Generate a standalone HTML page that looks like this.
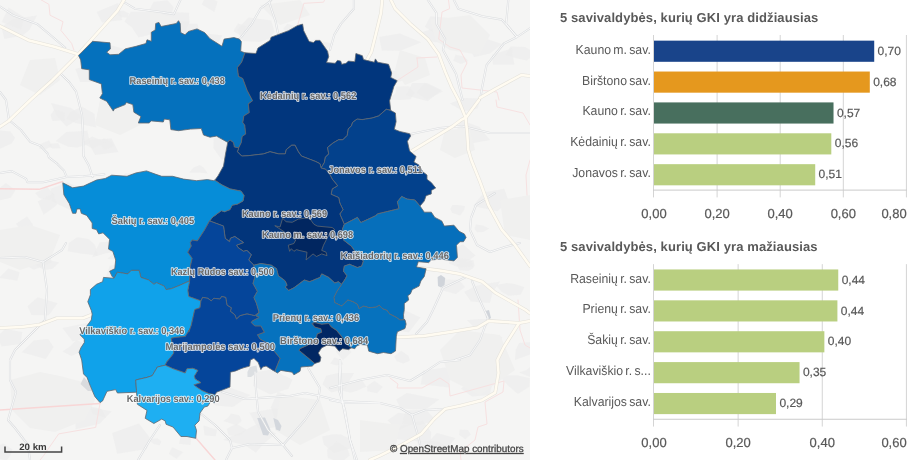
<!DOCTYPE html>
<html lang="lt">
<head>
<meta charset="utf-8">
<title>GKI savivaldybės</title>
<style>
*{box-sizing:border-box}
html,body{margin:0;padding:0;background:#fff}
body{width:920px;height:460px;overflow:hidden;position:relative;font-family:"Liberation Sans",sans-serif}
#map{position:absolute;left:0;top:0;width:530px;height:460px;background:#f5f5f4;overflow:hidden}
#map svg{position:absolute;left:0;top:0;display:block}
text{text-rendering:geometricPrecision}
.lbl{font:bold 10px "Liberation Sans",sans-serif;fill:#686868;stroke:#fff;stroke-width:1.7px;stroke-opacity:.82;stroke-linejoin:round;paint-order:stroke fill;text-anchor:middle;text-rendering:geometricPrecision}
.reg{stroke:#5f6770;stroke-width:0.8;stroke-linejoin:round}
#panel{position:absolute;left:0;top:0;width:920px;height:460px}
.ttl{font:bold 13px "Liberation Sans",sans-serif;fill:#595959;letter-spacing:0.1px}
.grid{stroke:#d4d4d4;stroke-width:1;fill:none}
.axis{stroke:#cacaca;stroke-width:1;fill:none}
.cat{font:13px "Liberation Sans",sans-serif;fill:#595959;text-anchor:end;word-spacing:-1.2px}
.val{font:12px "Liberation Sans",sans-serif;fill:#595959;stroke:#595959;stroke-width:.2px}
.tick{font:13px "Liberation Sans",sans-serif;fill:#595959;stroke:#595959;stroke-width:.2px}
.att{font:10px "Liberation Sans",sans-serif;fill:#444;stroke:#444;stroke-width:.3px;stroke-linejoin:round}
.sc{font:bold 9.4px "Liberation Sans",sans-serif;fill:#3a3a3a;text-anchor:middle}
</style>
</head>
<body>
<div id="map">
<svg width="530" height="460" viewBox="0 0 530 460">
<g fill="#ededec" fill-opacity=".7">
<path d="M175.8,64L187.1,73.9L162.1,81.7L161.3,66.3Z"/>
<path d="M55.2,194.7L49.7,200.5L39.4,197.9L35.1,192.9L41.7,189.8L47.1,185.9L50.3,190.7Z"/>
<path d="M120.3,258.6L115.6,260L107.6,258.8L112.1,254.5L115.3,250.8L123,251.7L124.3,256.1Z"/>
<path d="M283.1,29L287.3,23.7L295.7,26.3L298.5,32.3L288.6,32.5Z"/>
<path d="M115.4,77.7L142.5,69.4L151.1,88.7L125.3,90.5Z"/>
<path d="M526.6,60.5L516.6,58.2L505.2,55.1L510.5,46.5L525,46.9L536.3,53.3Z"/>
<path d="M174.6,322.2L169.1,326.8L155.4,328.5L157.6,319.9L154.6,311.1L168.8,312.5L180.7,315.4Z"/>
<path d="M377.1,206.4L365.3,211.5L354.5,210.1L351.5,204.2L353.2,192.9L367.7,199.8Z"/>
<path d="M139.9,189.1L118.2,184.5L125,173.2L146.7,174.3Z"/>
<path d="M305,322.7L303.2,330.1L292.3,334.5L279.9,331.2L271.4,322.7L280.9,312.7L298,315.8Z"/>
<path d="M15.4,190.2L10.8,197.7L-0.7,200.5L-10.9,195.2L-2.7,189.9L5.8,183Z"/>
<path d="M400.4,408.2L396.2,399.5L406.8,393.1L419.2,395.4L439.4,399.2L426.3,409.1L413,409.2Z"/>
<path d="M333.7,43.9L321.1,52.1L308.4,49.1L314.3,39.6Z"/>
<path d="M350.7,448.2L334,453.2L324,444.4L322.1,436.6L333.1,434.3L341.1,434.6L349,438.5Z"/>
<path d="M143.7,388.5L133.2,382.5L137.5,375.3L151.8,379.2Z"/>
<path d="M397.8,130.1L414.7,134.3L405.4,143.3L383.1,141.2Z"/>
<path d="M271.6,352.7L287.6,350.5L290.1,358.8L284.2,363.3L273.7,361.6Z"/>
<path d="M443,91.2L426.7,100L416.3,92.4L424.7,82.8Z"/>
<path d="M196.6,369.4L191.4,377.2L179.5,379.4L171,374L173.7,366.8L186.9,360.6Z"/>
<path d="M479.6,381.9L492.2,384.6L489.6,395L472,396.5L461,388.8L468.4,380.7Z"/>
<path d="M81.3,364.9L89.4,360.5L94.6,358.4L107.3,356.7L100.5,363.8L99.9,369.7L90,369Z"/>
<path d="M340.5,274.7L352.4,272.1L356.7,279.2L354.5,283.8L350.6,294.6L335.7,289L332.2,280.5Z"/>
<path d="M508.5,201L497.5,211.2L473.2,206L483.8,192.5L504.2,188.7Z"/>
<path d="M430.4,16.3L448,17.9L463.5,23.5L461.9,35.8L443.3,34.8L434,32.9L424.9,26.7Z"/>
<path d="M469.5,365.3L449.7,365.4L448.2,352.9L464.4,349.5L477.8,355.5Z"/>
<path d="M294.4,364.5L284.6,360.8L294.3,356L302.6,360.7Z"/>
<path d="M398.5,412.7L413.1,414.7L413.2,424L398,430.5L387.6,420.2Z"/>
<path d="M468,430L470.7,434.4L465.2,439.2L459.1,434.7L459.8,429.8Z"/>
<path d="M57.6,303.3L48.7,315.3L31.5,315L27.5,306.2L37.6,297.3Z"/>
<path d="M421.2,42.2L400.6,50.7L381.9,50.4L379.1,36.9L399.7,33.5Z"/>
<path d="M95.2,155L86.5,140L111.6,138.6L118.4,152.1Z"/>
<path d="M161.4,441.4L159.5,445.2L153.6,443.9L147.6,439.3L157.4,438.2Z"/>
<path d="M51.7,201.3L50.7,188.8L67.3,182.2L82.3,188.6L82.6,198.4L70.4,209.9Z"/>
<path d="M88.5,405.8L101.7,409.3L106.2,418.1L92.8,414.3Z"/>
<path d="M465,206.3L463.8,210.6L460,215.6L452.1,212.8L450.3,208.8L452.5,205.1L458.6,204.9Z"/>
<path d="M104.3,149.9L99.6,143.8L103.6,138.3L111.3,141.3L113.8,146.2Z"/>
<path d="M-2.7,336.6L5.1,329L22.3,332L20.5,343.9L1.7,346.6Z"/>
<path d="M277.8,391.7L300,400.3L316.3,411L298.8,422.9L275.1,420.2L270.8,407.3Z"/>
<path d="M176.4,20.2L189.5,21.7L187.5,27L177.6,29.1Z"/>
<path d="M197.8,226.1L213.1,227.2L215.3,238.1L199,239.1L184,233.3Z"/>
<path d="M183.1,451.9L176.4,458.7L168.8,453.8L172.2,447.2Z"/>
<path d="M261.6,235.2L248.3,234.4L243.2,228L256,227Z"/>
<path d="M153.9,285.1L165.1,284.8L165,291.1L158.5,293.4L148.3,291.4Z"/>
<path d="M87.8,322.7L93.4,337.5L72.6,341.2L62.4,327.9Z"/>
<path d="M276.6,408.3L289.2,425.3L258.5,429.7L249.6,412.7Z"/>
<path d="M128.8,13.2L127.3,17.7L120.7,17.1L117.7,15L116,10.7L123.5,10.7Z"/>
<path d="M137.5,208L147.2,207.3L142.8,213L136.2,211.6Z"/>
<path d="M132.6,335.7L134.8,331.3L142.7,328.9L151,332.2L150.1,338L143.5,341.7L137.5,338.2Z"/>
<path d="M70,112.1L82.1,106.7L94.4,113.8L96.3,127.4L75.7,123.1L66.1,119Z"/>
<path d="M253.1,326.9L248.4,320.5L259.6,321.5L271.5,320.3L273.9,328.2L261.9,329.2L255.1,331.6Z"/>
<path d="M420.9,452.6L417.4,441.7L433.1,440.7L440.4,442.2L449.6,448.5L436.4,451.3Z"/>
<path d="M204.6,270L201.5,279.9L194.6,290.6L179,283.7L182.6,275.8L189,272.6Z"/>
<path d="M252.5,210.3L255.6,204.6L264.2,202.3L269.4,207.9L262.5,212.8Z"/>
<path d="M217,429.8L215.7,436.3L204.5,435.3L203.3,425.6Z"/>
<path d="M318.3,161.1L319.3,166.5L317.8,174.2L303.7,172.8L304,165.3L305.3,155.6Z"/>
<path d="M248.3,135.7L250.8,147.2L243.2,158.5L221.6,159.5L213.4,148.3L213.7,137.6L230.6,139Z"/>
<path d="M364,208.8L377.6,198.2L393.1,200.8L404,206.5L396.1,214.3L382.6,214.8Z"/>
<path d="M387.5,307.8L380.6,300.3L389,295.4L398.2,297.3L398.6,303.5Z"/>
<path d="M489.1,228.5L483.4,231.9L477,232.2L474.5,228.7L476,224.5L482.9,225.6Z"/>
<path d="M126.7,110.6L140.2,118.8L126.8,128.1L113.8,118.9Z"/>
<path d="M186.5,33.1L176.2,35.4L165.8,30.7L174,25.3L181.4,23.8L186.8,27.3Z"/>
<path d="M225.1,213.4L193.6,216.1L193.5,193.5L233.1,192.4Z"/>
<path d="M274.5,32L269,38.7L259,41.9L243,41L236.9,29.8L248.4,17.5L271.2,20.5Z"/>
<path d="M351.4,351.9L343,360.3L335.9,351.8L343.2,342.2Z"/>
<path d="M507.3,283.1L514.5,283.9L524.4,287.3L520.7,294.8L508.5,295.8L501.3,291.5L495.6,284.9Z"/>
<path d="M-5.4,130.1L10.3,131.4L15.1,137.9L11.6,143.5L-1.5,149.4L-9.9,140Z"/>
<path d="M171.7,13L165,17.7L155,15.5L149.5,9.5L153.6,1.9L167.5,0.3L173.8,7.3Z"/>
<path d="M214.3,12.1L201.8,4.6L206.2,-5L217.5,1.8Z"/>
<path d="M106.1,344.1L117.5,343.4L129,344.3L123.2,350.7L122.2,356.2L110.7,358L111.5,350.6Z"/>
<path d="M17.3,280.8L-1.1,277.9L8.4,268.5L19.6,272.3Z"/>
<path d="M52.3,77.5L45.7,80.5L38.8,80.6L34.8,77.3L37.2,73.9L41.9,73.3L47.5,73.4Z"/>
<path d="M179,443.8L180.6,437.6L188.2,433.3L191.1,439.2L190.4,444.9Z"/>
<path d="M92.1,257.3L96.8,248.3L99.9,242.3L114.7,241.4L119.5,251L106,253.3Z"/>
<path d="M22.4,35.4L4.4,39.1L1.5,26.9L12.8,19.1L36.9,15.4L29.4,30Z"/>
<path d="M420.4,317.6L409,332.3L383.9,329L367.2,316.8L390.4,311.4L403.3,309.4Z"/>
<path d="M258.8,423.1L276,433.4L263.6,443.8L255.9,452.4L245,445.2L223,439.7L241.9,432Z"/>
<path d="M354.9,71.5L359.5,64.9L369.5,63.8L375.2,68.3L371.4,72.5L364.4,74.8Z"/>
<path d="M363.6,220.1L353.2,233.2L336.2,226.2L336.8,219L345.9,216.3Z"/>
<path d="M272.5,332.1L255.4,335.9L254.9,325.3L262.8,318.4L279,322.4Z"/>
<path d="M394.1,356.4L401.2,350.8L408.6,356L409.8,360.7L403.4,363.5L396.9,361.2Z"/>
<path d="M468.5,271.1L459.7,270.3L456.4,264.2L465.7,262.2L473.3,260.1L474.6,265.2L473.1,268.2Z"/>
<path d="M477.8,107.9L470.1,111.1L461.6,110.3L449.8,103.4L464.2,98.1L480.6,98.4Z"/>
<path d="M199.6,389.4L203.6,396.9L208.6,404L194.9,407.8L187,400.9L191.7,395.7Z"/>
<path d="M160.6,11.7L189,12.8L189.3,24.3L170,29.1Z"/>
<path d="M370.1,86.5L360.7,91.7L350.6,87.7L350.1,78.9L365.6,78.5Z"/>
<path d="M77,237.2L88.5,239.1L94.8,244.7L98.2,255.5L80.6,253.6L67.7,251.2L68.9,242.9Z"/>
<path d="M209.1,388.5L227.8,386.7L250.4,395L232.9,407.1L215.5,405.6L207.7,398.7Z"/>
<path d="M52.5,268.7L44.3,269.9L33.2,264.1L46.6,259.4L59.2,262.5Z"/>
<path d="M489.6,344.5L479.8,341.5L487.4,336.9L493.2,333.9L502.1,337L500.8,344.3Z"/>
<path d="M95.8,70.9L82.5,62L94.8,53.9L103.5,43.3L122.6,48.6L132,61.3L115.5,70.7Z"/>
<path d="M459,279.9L465,286.9L455.8,294.1L439.9,289.8L444.6,279.6Z"/>
<path d="M82.6,116.5L66.4,126.6L56.4,115.7L51,102.9L71,108.1Z"/>
<path d="M310.2,246.8L322.4,246.4L331.5,252.1L325.8,259.7L311.5,261.8L307.1,253.8Z"/>
<path d="M3.2,443.4L12.3,449.3L10.5,455.3L6.4,460.9L-2.3,457.9L-6.5,454.4L-7,448.5Z"/>
<path d="M57.2,204.7L43.7,214.8L37.7,201.6L52.8,193.4Z"/>
<path d="M53.6,347.1L45.7,359.1L21.7,352.3L33.8,340.6L48.2,339.1Z"/>
<path d="M460.7,119.9L479.5,127L490.1,140L464.9,144.5L455.6,133.2Z"/>
<path d="M183.8,291.7L165.4,298.8L158.9,286L158,278.1L167.3,270.4L181.8,274.4L182.5,282.3Z"/>
<path d="M107.3,69L120.2,80.1L98.2,81.9L80.2,82L75.4,68.9L94.1,63.6Z"/>
<path d="M462.5,264.8L442.8,255.2L462.9,244.2L475.6,255.5Z"/>
<path d="M199.8,164.9L204.3,168.2L207.5,173.4L198.7,172.6L189.3,172.5L193.9,167.5Z"/>
<path d="M336.8,441.4L347.6,448.7L349.7,455.6L340.6,462.9L327.7,457.7L327,449.5Z"/>
<path d="M33.2,225.3L23.5,232.7L15.9,223.8L27.2,216.6Z"/>
<path d="M105.8,277.5L109.7,266L119.7,263.6L137.7,265.9L127.9,278Z"/>
<path d="M233.7,31.6L235,28.2L238.1,23.5L246.1,26.2L245.4,31.1L239.8,35.1Z"/>
<path d="M239.7,435.8L228.7,435.6L226.7,428.8L236.3,423.8L246.4,429.6Z"/>
<path d="M490,53.5L474,57L468.4,45.8L482.4,37.6L501.8,43.9Z"/>
<path d="M105.5,142L93,148.7L81.6,142.6L92.2,136.6Z"/>
<path d="M236.3,425.6L229.1,422.8L223.3,420.9L227.7,417.9L231.2,413.4L239.4,415.6L241.7,420.9Z"/>
<path d="M130.9,11.8L150.3,11.8L151.9,22.8L156.2,33.1L138.6,37.4L132,27.6L124.4,21.6Z"/>
<path d="M111.7,411.3L99.6,423.7L75.7,429.2L75,413.5L89.5,407.6Z"/>
<path d="M464.3,292L474.5,286.6L481.4,284.6L500.2,281.6L492.8,292.1L489.8,302.9L471,301.5Z"/>
<path d="M212.4,273.1L202.5,273.9L187.7,265.8L207.1,261.6L216.5,267.2Z"/>
<path d="M8.6,7.4L24.3,17.2L21.1,29.6L1.7,22.1Z"/>
<path d="M450.9,366.7L449.4,387.4L420.8,384.3L423.2,370.4Z"/>
<path d="M118,3L122.1,20.1L102,22.4L96.6,12.1Z"/>
<path d="M400.8,100L388.7,99.7L395.5,93.2L396.4,86.5L408.9,86.2L415,93L410.2,99.3Z"/>
<path d="M269.6,134.4L257.2,138.1L245.5,141.7L242.9,133.8L237.6,125.5L251.7,119.5L269.7,123.3Z"/>
<path d="M300.8,141.5L297.3,132.4L300.4,125.9L310.4,129L317.3,136.9Z"/>
<path d="M428.5,442L436.7,432.9L455.5,437.9L447.2,448.1L437.8,451.1L419.4,451.8Z"/>
<path d="M393.9,217.6L420,217.4L419.5,233.8L385.7,237.9Z"/>
<path d="M43.7,412.2L38.9,408.6L44.4,406.1L53.5,405.3L51.5,411.4Z"/>
<path d="M493,64.6L492.1,54.8L511.8,48.4L514.4,64.5Z"/>
<path d="M386.1,75.6L392.9,70.5L408.1,72.4L401.6,80.8L393.5,83.5L384.5,81.3Z"/>
<path d="M382.8,387.1L376.9,393.2L367.6,391.2L367,386.3L374.5,380.7Z"/>
<path d="M149.7,437.4L146.9,449L117.2,453.7L112.2,433L139,423.5Z"/>
<path d="M226.4,103.2L215.7,88.5L232.1,85.2L251.1,92.7Z"/>
<path d="M218.1,104.3L215.7,92.1L236.8,91.2L256.3,98.7L251.2,115.3L225.8,113.7Z"/>
<path d="M297.2,337L315.6,336.9L317.1,348.2L302.7,352.8L295.2,345.7Z"/>
<path d="M90.8,53.7L99.4,50.3L111.7,54.8L106.7,63.9L92.3,65.5L86.9,58.6Z"/>
<path d="M206.8,208.2L213.4,198.5L231.5,197L236.6,206.8L231.4,212.1L226.8,221.8L209.3,218.7Z"/>
<path d="M50.6,115.1L54.4,109.5L64.9,112.6L64.7,120.3L52.4,120.9Z"/>
<path d="M338.1,373.1L354.2,373L348.3,382.4L345.6,389L331.2,392.5L322.5,384.2L326.2,375.8Z"/>
<path d="M348.8,116.7L337,122.8L323.9,115.4L338.8,109.9Z"/>
<path d="M165.4,102.6L146.3,112.8L131.4,107.7L120.3,94.9L143.3,97.3Z"/>
<path d="M427.2,83L441.3,89.9L427.8,101.3L405.8,95.2L412.3,83Z"/>
<path d="M515,359.9L515.7,349.7L519.1,342.9L530.4,342.3L541.1,345.5L538,352.4L529.9,354.5Z"/>
<path d="M378.4,134.7L371.6,129.9L379.2,126.4L388.3,121.8L389,129L387.1,133.4Z"/>
<path d="M206.1,33.5L222.4,35.6L216.3,46L202.5,43.9L196.8,40.7L188.6,30.6Z"/>
<path d="M350.9,112.4L354.5,116.5L347.4,121L342.4,116L343.7,111.5Z"/>
<path d="M272.2,268.3L301.5,274L294,292L273.2,283.9Z"/>
<path d="M362,238.3L371.4,238L382.5,241.5L385.5,252.3L368,254.5L353.5,251.5L350.5,242.3Z"/>
<path d="M467,320.2L479.5,319L492,319.2L486,326.7L474.4,327.6Z"/>
<path d="M366.3,386.6L357.7,390.6L350.4,392.8L340.6,390.3L346.9,385L351.1,382.7L361.6,379.7Z"/>
<path d="M519.1,372.6L526.6,370.1L530.6,366.4L536.7,369.3L535.4,373.3L532.7,377.9L525.9,375.3Z"/>
<path d="M248.3,250.7L238.2,242.6L247.5,236.1L262,236L264.6,246.5Z"/>
<path d="M285.3,151.2L278.5,166.2L255.5,163.5L244.7,155.2L251.1,145.5L269.7,140.5Z"/>
<path d="M332.8,360.1L334.4,357.6L338.2,358.8L341.1,360.3L343.5,364.6L336,365.3L330.1,363.5Z"/>
<path d="M405.5,410.5L425.9,409.4L435.9,420.3L419.8,425.2L402.3,423.4Z"/>
<path d="M247.5,347.6L247,352L241.4,357.4L238.7,351.3L237.6,345.2Z"/>
<path d="M77.2,147.5L68.2,146.8L55.8,141.1L66.3,132.1L87.4,130.7L90.1,143.5Z"/>
<path d="M254.6,372.5L273.4,369.3L282.8,374.9L292.5,379.6L288.4,388.8L270.6,394.4L253.2,386Z"/>
<path d="M253.2,192.8L249.5,191.7L248,189.7L246.3,185.4L253,186.8L261.9,186.7L256.2,190.9Z"/>
<path d="M453.3,60.8L455.6,54.8L464.2,56.6L468.4,60.9L460.8,64Z"/>
<path d="M62.3,351.6L70.3,346.3L76.4,339.9L86.5,344.3L82.2,350L79.3,352.4L71.8,356.1Z"/>
<path d="M446.9,34.3L439.8,42.8L427.7,40.9L418.7,33.3L433.8,28.6Z"/>
<path d="M233.7,87.5L231.5,67.3L261.3,67.7L262.9,83.9Z"/>
<path d="M414,440.8L391.6,438.7L401.7,425.3L422.9,420.7L431.2,432.3L430.6,443.3Z"/>
<path d="M499,375.5L518.1,375.4L529.8,378.3L529.5,386.5L517.9,394.1L508.3,385.8Z"/>
<path d="M228.7,320.2L227.1,312.1L239.7,307.5L244.6,315L251.4,321.4L238.7,325.5Z"/>
<path d="M456.1,266.2L448.9,263.5L450.8,257.1L460.8,258.7L470.7,259.2L473,266.4L461.8,267.6Z"/>
<path d="M334.3,307.8L326.5,314.7L316.3,318.1L308.2,310.4L319.6,303.5Z"/>
<path d="M197.4,23.8L199.4,31.1L190.8,36.7L181.9,32.3L180.1,27.2L186.5,23.8Z"/>
<path d="M375.1,155.1L381.3,163.7L390.4,171.9L375.4,175.5L359.9,176.7L358.8,167.2L362.4,160.4Z"/>
<path d="M39.8,145L41.9,143.2L49.2,140.5L52.2,145.9L45.9,148.9L39.1,148.7Z"/>
<path d="M140.4,348.4L153.9,352.5L147.7,360.3L141,362.4L134,363.1L130.1,359.1L133.3,355.2Z"/>
<path d="M1.6,257.7L8.9,244.6L30.6,240.7L45.7,249.6L52.2,262.3L34,269.8L20.6,262.3Z"/>
<path d="M173,112.9L165.9,110.9L163.5,108L162,103.7L169,104.1L177.4,103.3L179.2,108.9Z"/>
<path d="M31.1,258.4L23.4,254.1L31.8,249.3L37.9,254.5Z"/>
<path d="M51.3,143.4L58.4,143.2L60.5,148.3L52.9,148.5L48.4,146.6Z"/>
</g>
<g fill="#f0f0ef">
<path d="M10,380L40,372L60,376L90,384L95,400L85,420L55,432L30,428L12,410Z"/>
<path d="M0,230L30,225L60,235L50,260L20,270L0,262Z"/>
<path d="M330,230L360,225L380,240L375,255L345,262L330,255Z"/>
<path d="M430,20L470,15L490,35L480,55L450,50L435,40Z"/>
<path d="M400,50L425,58L430,75L405,85L395,70Z"/>
<path d="M445,130L470,128L475,150L455,158L440,150Z"/>
<path d="M460,330L500,335L515,370L480,395L450,380L440,350Z"/>
<path d="M280,395L320,400L330,430L300,445L275,430Z"/>
<path d="M30,60L55,58L60,80L40,95L20,85Z"/>
<path d="M100,100L140,95L150,120L120,135L95,125Z"/>
<path d="M150,10L180,20L175,35L150,32Z"/>
<path d="M260,5L300,0L310,15L280,25Z"/>
<path d="M500,200L530,195L530,240L505,235Z"/>
<path d="M360,420L400,425L395,450L360,452Z"/>
</g>
<path d="M257.2,418L265,417.6L270.5,430L268,435.5L263,435Z" fill="#d3d7dd"/>
<path d="M273.3,418L278,420L281.5,426L280,431L276,429.5Z" fill="#d3d7dd"/>
<path d="M247.4,372L250,367L256.5,365.5L257.5,372L251,377L247.5,377Z" fill="#dcdfe2"/>
<path d="M437.6,277L441,275L445.2,278L444.5,285L441,287.5L438,286Z" fill="#d0d4da"/>
<path d="M485.4,311L489,310L491,318L488,320L486,317Z" fill="#d0d4da"/>
<path d="M80.5,384L84,377L89.5,384L92,391L88,391Z" fill="#d9dbde"/>
<g fill="none" stroke-linejoin="round" stroke-linecap="round">
<g stroke="#f7e1e1" stroke-width="1">
<path d="M297.4,26.1L303.9,3.3L323.5,2.2L324.6,0"/>
<path d="M41.3,0L48.9,4.3L50,15.2L63,21.7L60.9,30.4L71.7,43.5L73.9,50"/>
<path d="M100,403.5L95.7,427.4L58.7,433.9L43.5,455.7L40,460"/>
<path d="M448.5,0L449.6,8.7L442,12L438.7,39.1L450,47L460,50L467,63L461,75L462,88L480,90L497,92L499,100"/>
<path d="M417,58L418,67L398,80"/>
<path d="M417,58L437,57"/>
<path d="M195,437L208,452L215,460"/>
<path d="M390,378L398,384L397,388L422,388L440,378L449,384L450,396L504,381L503,392L485,402L487,424L478,427L475,440L460,452L461,460"/>
<path d="M496,100L497,107L523,113L530,125"/>
<path d="M530,160L526,175L527,195"/>
<path d="M518,300L520,330L525,345L530,348"/>
</g>
<g stroke="#f8d6d6" stroke-width="1.4">
<path d="M0,188.7L39.1,189.3L62.6,181.5"/>
<path d="M0,410L100,403.5"/>
<path d="M195.5,437.5L208,452L215,460"/>
</g>
<g stroke="#dcdee0" stroke-width="2.1">
<path d="M238.7,40.2L251.7,23.9L260.4,8.7L269.1,2.2L271.3,0"/>
<path d="M269.1,2.2L275.7,21.7L277.8,32.6"/>
<path d="M353.9,0L353.9,8.7L340.9,23.9L334.3,34.8L330,50"/>
<path d="M0,6.5L13,15.2L37,23.9L50,34.8L65.2,47.8"/>
<path d="M123.9,2.2L134.8,8.7L160.9,12L173.9,14.1L180.4,0"/>
<path d="M60.9,73.9L69.6,82.6L76,91.3L78.3,100L82,115L82.8,130L83.5,156.1L88.7,165.2L92.6,177"/>
<path d="M0,92L6,100L9,120L20.9,130L30,141.7L40.4,145.7L47.6,153.5L48.9,157.4L57.4,163.9L63.9,170.4L66.5,176.3"/>
<path d="M0,173L11.7,171.1L26.1,178.9L27.4,182.2L43,182.2L52.2,180.2L66.5,177L83.5,176.3L96.5,175L104.3,174.3"/>
<path d="M427.8,0L436.5,13L436.5,23.9L445.2,39.1L443,50L456.1,73.9L462.6,100"/>
<path d="M453.9,0L458.3,8.7L482.2,16.3L501.7,19.6L517,37L530,28.3"/>
<path d="M517,37L503.9,43.5L486.5,65.2L482.2,87L480,100"/>
<path d="M508.3,0L506.1,23.9L517,37"/>
<path d="M411,134L440,128L462,126L490,133L530,133"/>
<path d="M471,218L476,205L495,193"/>
<path d="M471,218L470,230L477,245L490,252L505,247L520,243"/>
<path d="M416,334L427,322L433,310L443,288L458,281L468,276"/>
<path d="M472,281L478,296L488,318L480,340L470,355L455,360"/>
<path d="M340,360L339,390L345,410L350,440L357,460"/>
<path d="M330,388L360,380L387,375L410,381L425,372L440,362L460,360"/>
<path d="M330,400L345,403L380,403L400,408L412,415L418,436L420,444"/>
<path d="M412,415L425,410L445,409"/>
<path d="M255,372L256,390L258,412L268,430L283,445L292,456"/>
<path d="M222,392L245,399L290,396L305,393L320,396L340,401L380,403"/>
<path d="M308,368L320,388L318,400L305,420L283,445"/>
<path d="M340,360L342,400L350,440L355,460"/>
<path d="M200,413L215,425L230,440L232,448L226,460"/>
<path d="M232,448L250,444L283,445"/>
<path d="M10,360L10,380L16,392L8,420L15,428L28,445L30,460"/>
<path d="M0,258L25,257L43,262L62,250L66,243"/>
<path d="M43,262L47,290L45,320L30,335L15,350L10,360"/>
<path d="M138,460L150,440L160,425"/>
<path d="M131,236L130,255L132,262"/>
</g>
<g stroke="#fafafa" stroke-width="0.9">
<path d="M238.7,40.2L251.7,23.9L260.4,8.7L269.1,2.2L271.3,0"/>
<path d="M269.1,2.2L275.7,21.7L277.8,32.6"/>
<path d="M353.9,0L353.9,8.7L340.9,23.9L334.3,34.8L330,50"/>
<path d="M0,6.5L13,15.2L37,23.9L50,34.8L65.2,47.8"/>
<path d="M123.9,2.2L134.8,8.7L160.9,12L173.9,14.1L180.4,0"/>
<path d="M60.9,73.9L69.6,82.6L76,91.3L78.3,100L82,115L82.8,130L83.5,156.1L88.7,165.2L92.6,177"/>
<path d="M0,92L6,100L9,120L20.9,130L30,141.7L40.4,145.7L47.6,153.5L48.9,157.4L57.4,163.9L63.9,170.4L66.5,176.3"/>
<path d="M0,173L11.7,171.1L26.1,178.9L27.4,182.2L43,182.2L52.2,180.2L66.5,177L83.5,176.3L96.5,175L104.3,174.3"/>
<path d="M427.8,0L436.5,13L436.5,23.9L445.2,39.1L443,50L456.1,73.9L462.6,100"/>
<path d="M453.9,0L458.3,8.7L482.2,16.3L501.7,19.6L517,37L530,28.3"/>
<path d="M517,37L503.9,43.5L486.5,65.2L482.2,87L480,100"/>
<path d="M508.3,0L506.1,23.9L517,37"/>
<path d="M411,134L440,128L462,126L490,133L530,133"/>
<path d="M471,218L476,205L495,193"/>
<path d="M471,218L470,230L477,245L490,252L505,247L520,243"/>
<path d="M416,334L427,322L433,310L443,288L458,281L468,276"/>
<path d="M472,281L478,296L488,318L480,340L470,355L455,360"/>
<path d="M340,360L339,390L345,410L350,440L357,460"/>
<path d="M330,388L360,380L387,375L410,381L425,372L440,362L460,360"/>
<path d="M330,400L345,403L380,403L400,408L412,415L418,436L420,444"/>
<path d="M412,415L425,410L445,409"/>
<path d="M255,372L256,390L258,412L268,430L283,445L292,456"/>
<path d="M222,392L245,399L290,396L305,393L320,396L340,401L380,403"/>
<path d="M308,368L320,388L318,400L305,420L283,445"/>
<path d="M340,360L342,400L350,440L355,460"/>
<path d="M200,413L215,425L230,440L232,448L226,460"/>
<path d="M232,448L250,444L283,445"/>
<path d="M10,360L10,380L16,392L8,420L15,428L28,445L30,460"/>
<path d="M0,258L25,257L43,262L62,250L66,243"/>
<path d="M43,262L47,290L45,320L30,335L15,350L10,360"/>
<path d="M138,460L150,440L160,425"/>
<path d="M131,236L130,255L132,262"/>
</g>
<g stroke="#e4e2dc" stroke-width="3.6">
<path d="M123.9,0L117.4,10.9L97.8,32.6L78.3,54.3L52.2,80.4L30.4,100L8.6,121L0,126.8"/>
<path d="M0,26.1L28.3,40.2L54.3,46.7L78.3,54.3"/>
<path d="M382.2,0L381,13L375.7,34.8L371.3,52.2L367,59.8"/>
<path d="M390.9,0L395.2,8.7L410.4,23.9L427.8,39.1L438.7,54.3L445.2,71.7L451.7,87L458.5,100L465.5,117.4L467.2,132.6L468.3,150L471.3,160L480,181.7L488.7,205.7L501.7,229.6L514.8,244.8L525.7,260L530,266"/>
<path d="M480,97.8L495.2,89.1L521.3,75L530,76"/>
<path d="M411.7,151.1L453,126.1L461.7,119.6L466,117.4L470,112L479,100"/>
<path d="M417,267.6L443,270.9L460.4,274.1L482.2,281.7L495.2,292.6L510.4,301.3L525.7,310L530,313.3"/>
<path d="M397.4,337.2L423.5,336.1L451.7,331.7L477.8,327.4L488.7,320.9L519.1,323L530,320.9"/>
<path d="M519.1,323L503.9,347L497.4,360L498.5,373L495.2,392.6L482.2,400.2L460.4,405.7L445.2,408.9L434.3,418.7L421.3,433.9L401.7,444.8L380,455.7L370,460"/>
<path d="M0,328L21.7,327L39.1,324.8L56.5,318.3L82.6,318.3L91.3,315"/>
</g>
<g stroke="#fffbf1" stroke-width="2.5">
<path d="M123.9,0L117.4,10.9L97.8,32.6L78.3,54.3L52.2,80.4L30.4,100L8.6,121L0,126.8"/>
<path d="M0,26.1L28.3,40.2L54.3,46.7L78.3,54.3"/>
<path d="M382.2,0L381,13L375.7,34.8L371.3,52.2L367,59.8"/>
<path d="M390.9,0L395.2,8.7L410.4,23.9L427.8,39.1L438.7,54.3L445.2,71.7L451.7,87L458.5,100L465.5,117.4L467.2,132.6L468.3,150L471.3,160L480,181.7L488.7,205.7L501.7,229.6L514.8,244.8L525.7,260L530,266"/>
<path d="M480,97.8L495.2,89.1L521.3,75L530,76"/>
<path d="M411.7,151.1L453,126.1L461.7,119.6L466,117.4L470,112L479,100"/>
<path d="M417,267.6L443,270.9L460.4,274.1L482.2,281.7L495.2,292.6L510.4,301.3L525.7,310L530,313.3"/>
<path d="M397.4,337.2L423.5,336.1L451.7,331.7L477.8,327.4L488.7,320.9L519.1,323L530,320.9"/>
<path d="M519.1,323L503.9,347L497.4,360L498.5,373L495.2,392.6L482.2,400.2L460.4,405.7L445.2,408.9L434.3,418.7L421.3,433.9L401.7,444.8L380,455.7L370,460"/>
<path d="M0,328L21.7,327L39.1,324.8L56.5,318.3L82.6,318.3L91.3,315"/>
</g>
</g>
<g class="reg">
<path d="M78.5,55.4L92.6,41.3L110,42.8L110.4,48.9L106.7,52.2L110,54.8L118.7,54.3L125.2,48.9L136.1,46.3L145.9,43.5L147,39.8L151.3,41.3L151.3,32.2L155.2,30L155.7,23.5L158.9,22.4L161.1,26.5L168.7,25L176.3,23.5L178.5,20.7L180.2,23.5L180.7,32.6L185,34.8L188.3,31.5L197,28.9L204.6,32.6L210,38.7L222,46.3L224.1,39.1L233.9,37.6L239.3,39.1L241.3,41.5L240.7,51.3L245,52.8L241.7,62.2L237.4,67.6L238.5,76.3L242.8,78.5L247.2,90.4L252.6,100.7L248.3,103.9L249.3,112.6L243.9,115.9L242.8,122.4L244.8,125.2L245.7,133.9L242.2,136.5L241.3,142.6L238.7,147.8L234.3,147L233.5,142.6L230,140L227.4,142.2L216.5,136.1L210,137.2L203.5,135L201.3,128.5L190.4,129.1L178.5,130.7L170.9,129.6L169.8,119.8L164.3,119.1L163.3,122L151.3,120.9L149.1,123L138.3,123L140.9,116.5L133.9,112.2L132.8,104.6L126.3,102.4L125.2,104.6L114.3,108.9L113.3,111.1L106.7,101.3L99.8,98L102.4,93.7L101.3,83.9L89.3,79.6L89.3,69.8L81.7,68.7L80.7,60Z" fill="#0571bd"/>
<path d="M245,52.8L255.9,53.5L258,48L270,40.4L271.1,37.2L288.5,30.7L297.2,25.7L302.6,24.1L303.7,30.7L309.1,41.5L313.5,42.6L315.7,40.4L320,40.4L327.6,51.3L328.7,56.7L326.5,62.6L335.2,63.3L337.4,60.4L340.7,61.1L341.7,64.3L346.1,63.3L348.3,61.1L354.8,61.7L355.9,53.5L362.4,55.7L363.5,59.6L374.3,62.2L375.4,58.9L377.6,62.2L388.5,64.3L391.7,73L390.7,77.4L397.2,80.7L393.9,86.5L389.6,100.7L390.7,110.4L386.3,109.3L378.7,115.9L372.2,118L362.4,119.6L357,119.1L352.6,122.4L351.5,125.7L348.3,128.9L347.2,135.4L342.8,139.8L338.5,139.8L333,143L327.6,147.4L328.7,153.9L325.4,157.2L324.3,162.6L321.1,168L320,163.7L315.7,161.5L301.5,156.1L298.3,151.7L295,145.2L291.7,145.2L286.3,149.6L285.2,153.9L278.7,153.9L270,151.7L263.5,153.9L248.3,155.7L241.7,156.1L237.4,151.7L238.7,147.8L241.3,142.6L242.2,136.5L245.7,133.9L244.8,125.2L242.8,122.4L243.9,115.9L249.3,112.6L248.3,103.9L252.6,100.7L247.2,90.4L242.8,78.5L238.5,76.3L237.4,67.6L241.7,62.2Z" fill="#01367d"/>
<path d="M321.1,168L324.3,162.6L325.4,157.2L328.7,153.9L327.6,147.4L333,143L338.5,139.8L342.8,139.8L347.2,135.4L348.3,128.9L351.5,125.7L352.6,122.4L357,119.1L362.4,119.6L372.2,118L378.7,115.9L386.3,109.3L390.7,110.4L389.6,109.8L395.4,113L396.1,121.7L394.3,129.3L399.8,131.5L409.6,133.7L410.7,135.9L407.4,141.3L409.6,151.1L416.1,156.5L413.9,162L419.3,165.2L422.6,171.7L427,175L427,179.3L431.3,182.6L435.7,188L431.3,190.4L431.3,193.9L426.1,195.7L424.3,200.9L420,206.1L414.8,200L407,199.1L401.7,196.5L397.4,201.7L399.1,208.7L377.4,213.9L375.7,215.7L360.9,222.6L357.4,217.4L344.3,224.3L339.8,213.9L343,209.6L339.8,203L338.7,197.6L331.1,194.3L332.2,188.9L337.6,185.7L332.2,179.1L330,174.8L325.7,169.3Z" fill="#03418c"/>
<path d="M238.7,147.8L237.4,151.7L241.7,156.1L248.3,155.7L263.5,153.9L270,151.7L278.7,153.9L285.2,153.9L286.3,149.6L291.7,145.2L295,145.2L298.3,151.7L301.5,156.1L315.7,161.5L320,163.7L321.1,168L325.7,169.3L330,174.8L332.2,179.1L337.6,185.7L332.2,188.9L331.1,194.3L338.7,197.6L339.8,203L343,209.6L339.8,213.9L344.3,224.3L342.6,228.7L343.5,240L351.3,246.1L353.9,249.6L357.4,255.7L363.5,260.9L361.7,266.1L357.4,267.5L349.6,264.3L344.3,266.1L343.5,271.3L347,275.7L345.2,279.1L341.7,284.3L338.3,281.7L334.8,283.1L328.7,277.4L321.7,273.9L320,277.4L309.6,281.7L304.3,280L297.4,285.2L293.9,287.8L288.7,290.4L285.2,287L287,285.2L285.2,280.9L278.3,275.7L276.5,268.7L271.3,265.2L260.9,263.5L253.9,265.2L248.7,260L251.3,254.8L247,250.4L243.5,251.3L238.3,247.8L236.5,245.2L243.5,242.6L234.8,236.5L230.4,238.3L229.6,241.7L225.2,238.3L223.5,226.1L209.6,220.9L212.6,217.2L221.3,210.7L224.6,211.7L230,209.6L232.2,205.2L237.6,204.1L243,200.9L244.1,195.4L240.9,191.1L230,188.9L221.3,184.6L214.8,180.2L218,175.9L223.5,166.1L225.7,153L227.8,142.2L230,140L233.5,142.6L234.3,147Z" fill="#02357b"/>
<path d="M274.8,225.7L280,227L282.6,218.3L286.1,221.7L292.2,222.3L298.3,219.1L304.3,218.3L309.6,218.3L313.9,224.3L317.4,226.1L332.2,227.5L334.8,229.6L330.4,232.2L327,238.3L323.5,245.2L321.7,250.4L326.1,252.2L327,255.7L321.7,253.9L316.5,256.5L313,253.9L306.1,260L307,252.2L299.1,250.4L296.5,249.6L293.9,251.3L291.3,248.7L289.6,251.3L288.3,245.2L293.9,243.5L295.7,240L292.2,237.4L283.5,231.3Z" fill="#012660"/>
<path d="M113.9,278.3L112.2,276.5L109.6,271.3L114.8,268.7L115.7,260L112.8,251.3L108.5,249.1L109.6,239.3L103,232.8L98.7,233.9L96.5,229.6L92.2,228.5L92.2,223L86.7,215.4L81.3,213.3L80.2,208.9L77,208.9L75.9,213.3L72.6,213.3L69.3,203.5L63.9,194.8L62.8,182.8L72.6,187.8L83.5,186.1L96.5,180L105.2,178.5L111.7,175.2L127,176.3L135.7,173L146.5,170.9L155.2,174.1L161.7,176.3L172.6,176.3L183.5,179.1L196.5,180.7L207.4,179.6L213.9,180.7L214.8,180.2L221.3,184.6L230,188.9L240.9,191.1L244.1,195.4L243,200.9L237.6,204.1L232.2,205.2L230,209.6L224.6,211.7L221.3,210.7L212.6,217.2L209.6,220.9L204.3,230.4L197.4,240.9L192.2,240L190.4,242.6L191.3,246.1L187.8,252.2L192.2,258.3L190.4,266.1L189.6,280.9L180,285.2L171.3,288.7L166.1,289.6L164.3,286.1L156.5,282.6L153.9,284.3L148.7,280L140.9,277.4L139.1,270.4L131.3,270.4L127.8,273.9L117.4,272.2Z" fill="#068dd8"/>
<path d="M344.3,224.3L357.4,217.4L360.9,222.6L375.7,215.7L377.4,213.9L399.1,208.7L397.4,201.7L401.7,196.5L407,199.1L414.8,200L420,206.1L424.3,212.2L431.3,212.2L434.8,217.4L441.7,220.9L444.3,226.1L453.9,225.2L459.1,231.3L464.3,233.9L466.1,237.4L463.5,241.7L460,241.7L457.4,244.3L456.5,245.2L457.4,257.4L453.9,260.9L447.8,260L440,259.1L431.3,260L428.7,262.6L418.3,261.7L416.5,267L426.1,268.7L424.3,276.5L420.9,280.9L419.1,286.1L412.2,289.6L410.4,293.9L407.8,295.7L408.7,300L404.3,303.5L404.3,309.6L403.5,314.8L403.8,319.7L405,319.8L400,320L396.5,317.4L389.6,313.9L387,310.4L382.6,308.7L379.1,305.2L376.5,307L369.6,307.8L363.5,306.1L359.1,308.7L357.4,304.3L353,301.7L347.8,300L341.7,306.1L334.8,302.6L333.9,297.4L337.4,290.4L341.7,284.3L345.2,279.1L347,275.7L343.5,271.3L344.3,266.1L349.6,264.3L357.4,267.5L361.7,266.1L363.5,260.9L357.4,255.7L353.9,249.6L351.3,246.1L343.5,240L342.6,228.7Z" fill="#066fbb"/>
<path d="M209.6,220.9L223.5,226.1L225.2,238.3L229.6,241.7L230.4,238.3L234.8,236.5L243.5,242.6L236.5,245.2L238.3,247.8L243.5,251.3L247,250.4L251.3,254.8L248.7,260L253.9,265.2L254.8,277.4L253,283.5L257.4,291.3L253.9,297.4L256.5,303.5L259.1,312.2L254.8,315.7L247,313.9L240,315.7L236.5,319.1L234.8,314.8L230.4,311.3L231.3,307.8L227,305.2L225.7,297.4L221.7,296.5L220,299.1L213.9,298.3L211.3,300.9L207.8,298.3L202.6,297.4L200.9,300.9L188.7,296.5L187.8,290.4L189.6,280.9L190.4,266.1L192.2,258.3L187.8,252.2L191.3,246.1L190.4,242.6L192.2,240L197.4,240.9L204.3,230.4Z" fill="#05459a"/>
<path d="M341.7,284.3L337.4,290.4L333.9,297.4L334.8,302.6L341.7,306.1L347.8,300L353,301.7L357.4,304.3L359.1,308.7L363.5,306.1L369.6,307.8L376.5,307L379.1,305.2L382.6,308.7L387,310.4L389.6,313.9L396.5,317.4L400,320L405,319.8L406.1,324.1L405,328.5L397.4,331.7L396.3,336.1L395.5,351L391,353.7L383.5,352.5L377.6,353.7L368.8,351.2L367.4,345L360,344.5L356.5,346.1L354.8,348.7L351.3,347.8L347.8,345.2L340.9,335.7L336.5,330.4L331.3,327L328.7,323.5L321.7,324.3L314.8,322.6L312.2,323.5L314.8,327L320.9,328.7L321.7,332.2L317.4,333.9L316.5,337.4L307.8,345.2L300,348.7L299.1,350.4L308.7,358.3L314.8,363.5L312.2,366.1L300.9,367L300,371.3L293.9,374.8L292.2,372.2L280.9,370.4L277.4,373L274.8,371.3L276.5,367L280,358.3L267.8,343.5L260,339.1L257.4,334.8L264.3,332.2L260.9,326.1L254.8,326.1L251.3,322.6L252.2,320.9L259.1,317.4L255.7,315.7L259.1,312.2L256.5,303.5L253.9,297.4L257.4,291.3L253,283.5L254.8,277.4L253.9,265.2L260.9,263.5L271.3,265.2L276.5,268.7L278.3,275.7L285.2,280.9L287,285.2L285.2,287L288.7,290.4L293.9,287.8L297.4,285.2L304.3,280L309.6,281.7L320,277.4L321.7,273.9L328.7,277.4L334.8,283.1L338.3,281.7Z" fill="#0672be"/>
<path d="M314.8,363.5L308.7,358.3L299.1,350.4L300,348.7L307.8,345.2L316.5,337.4L317.4,333.9L321.7,332.2L320.9,328.7L314.8,327L312.2,323.5L314.8,322.6L321.7,324.3L328.7,323.5L331.3,327L336.5,330.4L340.9,335.7L347.8,345.2L351.3,347.8L348.7,349.6L342.6,348.7L339.1,351.3L334.8,346.1L327,345.2L321.7,347.8L318.3,353L320.9,357.4L320,361.7Z" fill="#012763"/>
<path d="M136.5,392.2L117.4,393L115.7,389.6L107,391.3L102.6,400.9L100,402.6L94.8,396.5L90.4,386.1L87,377.4L83.5,373.9L81.7,360L79.1,352.2L80.9,347.8L84.3,342.6L84.3,339.1L80,334.8L86.1,327L91.3,320L92.2,313.9L91.3,310.4L87.8,301.7L90.4,294.8L90.4,289.6L96.5,284.3L102.6,281.7L103.5,277.4L113.9,278.3L117.4,272.2L127.8,273.9L131.3,270.4L139.1,270.4L140.9,277.4L148.7,280L153.9,284.3L156.5,282.6L164.3,286.1L166.1,289.6L171.3,288.7L180,285.2L189.6,280.9L187.8,290.4L188.7,296.5L200.9,300.9L200,307.8L194.8,309.6L191.3,325.2L188.7,332.2L189.6,329.6L185.2,336.5L175.7,337.4L171.3,338.3L173.9,353L171.3,356.5L167,361.7L165.2,365.2L157.4,367L152.2,375.7L147,377.4L135.7,380L136.5,390.4Z" fill="#10a2ea"/>
<path d="M200.9,300.9L202.6,297.4L207.8,298.3L211.3,300.9L213.9,298.3L220,299.1L221.7,296.5L225.7,297.4L227,305.2L231.3,307.8L230.4,311.3L234.8,314.8L236.5,319.1L240,315.7L247,313.9L254.8,315.7L259.1,312.2L255.7,315.7L259.1,317.4L252.2,320.9L251.3,322.6L254.8,326.1L260.9,326.1L264.3,332.2L257.4,334.8L260,339.1L267.8,343.5L280,358.3L276.5,367L274.8,371.3L273,370.4L266.1,366.1L262.6,367L260.9,369.6L258.3,362.6L253.9,358.3L250.4,360L249.6,366.1L243.5,367.8L240.9,368.7L235.7,370.9L230.4,372.2L230,387L223.5,389.6L216.5,392.2L215.2,394.8L208.7,393.5L201.7,390.4L195.2,386.1L193.9,384.8L200.9,382.6L195.2,379.1L194.3,376.1L197.8,370.4L193,368.3L187,368.7L185.2,373L173,368.7L165.2,365.2L167,361.7L171.3,356.5L173.9,353L171.3,338.3L175.7,337.4L185.2,336.5L189.6,329.6L188.7,332.2L191.3,325.2L194.8,309.6L200,307.8Z" fill="#05459a"/>
<path d="M165.2,365.2L173,368.7L185.2,373L187,368.7L193,368.3L197.8,370.4L194.3,376.1L195.2,379.1L200.9,382.6L193.9,384.8L195.2,386.1L201.7,390.4L208.7,393.5L215.2,394.8L214.4,402.8L213.4,402.6L212.6,398.5L207.8,406.1L204.3,407L200,413L199.1,420.9L194.8,425.2L196.5,430.4L195.7,438.3L187,436.5L180.9,436.5L173,427L166.1,424.3L165.2,420.9L161.7,419.1L153.9,423.5L145.2,418.3L147,410.4L137.4,404.3L136.5,392.2L136.5,390.4L135.7,380L147,377.4L152.2,375.7L157.4,367Z" fill="#1eaff2"/>
</g>
<g id="lbls">
<text class="lbl" x="177.2" y="83.7" textLength="95.2" lengthAdjust="spacingAndGlyphs">Raseinių r. sav.: 0,438</text>
<text class="lbl" x="308.2" y="99.2" textLength="96.3" lengthAdjust="spacingAndGlyphs">Kėdainių r. sav.: 0,562</text>
<text class="lbl" x="375.4" y="172.7" textLength="94.3" lengthAdjust="spacingAndGlyphs">Jonavos r. sav.: 0,511</text>
<text class="lbl" x="284.5" y="216.5" textLength="85.2" lengthAdjust="spacingAndGlyphs">Kauno r. sav.: 0,569</text>
<text class="lbl" x="307.6" y="238" textLength="91.2" lengthAdjust="spacingAndGlyphs">Kauno m. sav.: 0,698</text>
<text class="lbl" x="152.8" y="223.8" textLength="82.6" lengthAdjust="spacingAndGlyphs">Šakių r. sav.: 0,405</text>
<text class="lbl" x="394.7" y="258.6" textLength="108.4" lengthAdjust="spacingAndGlyphs">Kaišiadorių r. sav.: 0,446</text>
<text class="lbl" x="222.3" y="275" textLength="102.8" lengthAdjust="spacingAndGlyphs">Kazlų Rūdos sav.: 0,500</text>
<text class="lbl" x="316" y="321.4" textLength="86.5" lengthAdjust="spacingAndGlyphs">Prienų r. sav.: 0,436</text>
<text class="lbl" x="324.2" y="344" textLength="88.2" lengthAdjust="spacingAndGlyphs">Birštono sav.: 0,684</text>
<text class="lbl" x="131.8" y="333.5" textLength="105.3" lengthAdjust="spacingAndGlyphs">Vilkaviškio r. sav.: 0,346</text>
<text class="lbl" x="220.3" y="349.7" textLength="109.6" lengthAdjust="spacingAndGlyphs">Marijampolės sav.: 0,500</text>
<text class="lbl" x="173.2" y="401.5" textLength="92.8" lengthAdjust="spacingAndGlyphs">Kalvarijos sav.: 0,290</text>
</g>
<path d="M5,446.6V452.1H61.6V446.6" fill="none" stroke="#444" stroke-width="1.5"/>
<text class="sc" x="33" y="450.3" textLength="27.6" lengthAdjust="spacingAndGlyphs">20 km</text>
<text class="att" x="390" y="452" textLength="133.6" lengthAdjust="spacingAndGlyphs">© <tspan text-decoration="underline">OpenStreetMap contributors</tspan></text>
</svg>
</div>
<svg id="panel" width="920" height="460" viewBox="0 0 920 460">
<text class="ttl" x="560" y="22.1">5 savivaldybės, kurių GKI yra didžiausias</text>
<path class="grid" d="M653.50,35V197.4"/>
<path class="grid" d="M717.10,35V197.4"/>
<path class="grid" d="M780.20,35V197.4"/>
<path class="grid" d="M843.30,35V197.4"/>
<path class="grid" d="M906.40,35V197.4"/>
<path class="axis" d="M653,190.1H906.9"/>
<rect x="654" y="40.65" width="220.22" height="21.15" fill="#19448a"/>
<text class="cat" transform="translate(650.8,53.70) scale(.943,1)">Kauno m. sav.</text>
<text class="val" x="877.62" y="54.85">0,70</text>
<rect x="654" y="71.53" width="215.80" height="21.15" fill="#e5981e"/>
<text class="cat" transform="translate(650.8,84.58) scale(.943,1)">Birštono sav.</text>
<text class="val" x="873.20" y="85.73">0,68</text>
<rect x="654" y="102.41" width="179.52" height="21.15" fill="#486f5e"/>
<text class="cat" transform="translate(650.8,115.46) scale(.943,1)">Kauno r. sav.</text>
<text class="val" x="836.92" y="116.61">0,57</text>
<rect x="654" y="133.29" width="177.31" height="21.15" fill="#b9cf80"/>
<text class="cat" transform="translate(650.8,146.34) scale(.943,1)">Kėdainių r. sav.</text>
<text class="val" x="834.71" y="147.49">0,56</text>
<rect x="654" y="164.17" width="161.22" height="21.15" fill="#b9cf80"/>
<text class="cat" transform="translate(650.8,177.22) scale(.943,1)">Jonavos r. sav.</text>
<text class="val" x="818.62" y="178.37">0,51</text>
<text class="tick" text-anchor="middle" x="654.00" y="217.6">0,00</text>
<text class="tick" text-anchor="middle" x="717.10" y="217.6">0,20</text>
<text class="tick" text-anchor="middle" x="780.20" y="217.6">0,40</text>
<text class="tick" text-anchor="middle" x="843.30" y="217.6">0,60</text>
<text class="tick" text-anchor="end" x="906.70" y="217.6">0,80</text>
<text class="ttl" x="560" y="251.25">5 savivaldybės, kurių GKI yra mažiausias</text>
<path class="grid" d="M653.50,264.15V426.55"/>
<path class="grid" d="M738.13,264.15V426.55"/>
<path class="grid" d="M822.27,264.15V426.55"/>
<path class="grid" d="M906.40,264.15V426.55"/>
<path class="axis" d="M653,419.25H906.9"/>
<rect x="654" y="269.45" width="184.25" height="21.15" fill="#b9cf80"/>
<text class="cat" transform="translate(650.8,282.50) scale(.943,1)">Raseinių r. sav.</text>
<text class="val" x="841.65" y="283.65">0,44</text>
<rect x="654" y="300.33" width="183.41" height="21.15" fill="#b9cf80"/>
<text class="cat" transform="translate(650.8,313.38) scale(.943,1)">Prienų r. sav.</text>
<text class="val" x="840.81" y="314.53">0,44</text>
<rect x="654" y="331.21" width="170.37" height="21.15" fill="#b9cf80"/>
<text class="cat" transform="translate(650.8,344.26) scale(.943,1)">Šakių r. sav.</text>
<text class="val" x="827.77" y="345.41">0,40</text>
<rect x="654" y="362.09" width="145.55" height="21.15" fill="#b9cf80"/>
<text class="cat" transform="translate(650.8,375.14) scale(.943,1)">Vilkaviškio r. s...</text>
<text class="val" x="802.95" y="376.29">0,35</text>
<rect x="654" y="392.97" width="121.99" height="21.15" fill="#b9cf80"/>
<text class="cat" transform="translate(650.8,406.02) scale(.943,1)">Kalvarijos sav.</text>
<text class="val" x="779.39" y="407.17">0,29</text>
<text class="tick" text-anchor="middle" x="654.00" y="446.75">0,00</text>
<text class="tick" text-anchor="middle" x="738.13" y="446.75">0,20</text>
<text class="tick" text-anchor="middle" x="822.27" y="446.75">0,40</text>
<text class="tick" text-anchor="end" x="906.70" y="446.75">0,60</text>
</svg>
</body>
</html>
